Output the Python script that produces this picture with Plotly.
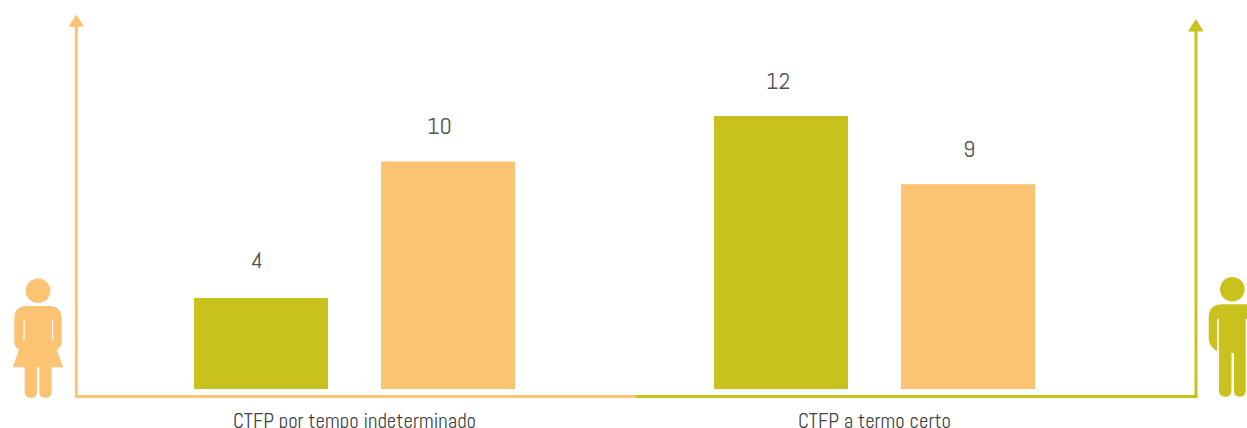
import plotly.graph_objects as go

categories = ["CTFP por tempo indeterminado", "CTFP a termo certo"]
men_values = [4, 12]
women_values = [10, 9]
OLIVE = "#C9C21E"
ORANGE = "#FCC372"
FONT = "Abel, Roboto, sans-serif"
W, H = 1247, 428
BASE = 389.0
UNIT = 22.75
CENTER0 = 354.5
STEP = 520.0


def px(x):
    return round(x / W, 5)


def py(y):
    return round((BASE - y) / BASE, 5)  # paper coordinates of the plot area


def path(*cmds):
    out = []
    for c in cmds:
        if isinstance(c, str):
            out.append(c)
        else:
            out.append(f"{px(c[0])},{py(c[1])}")
    return " ".join(out)


def circle(cx, cy, r):
    k = 0.5523 * r
    return path("M", (cx - r, cy),
                "C", (cx - r, cy - k), (cx - k, cy - r), (cx, cy - r),
                "C", (cx + k, cy - r), (cx + r, cy - k), (cx + r, cy),
                "C", (cx + r, cy + k), (cx + k, cy + r), (cx, cy + r),
                "C", (cx - k, cy + r), (cx - r, cy + k), (cx - r, cy), "Z")


def shape(d, color):
    return dict(type="path", xref="paper", yref="paper", path=d,
                fillcolor=color, line=dict(width=0), layer="above")


def line(x0, y0, x1, y1, color):
    return dict(type="line", xref="paper", yref="paper", x0=px(x0), x1=px(x1),
                y0=py(y0), y1=py(y1), line=dict(color=color, width=3), layer="above")


def tri(cx, tip, base, hw, color):
    return shape(path("M", (cx, tip), "L", (cx + hw, base), "L", (cx - hw, base), "Z"), color)


# woman pictogram
woman_body = path(
    "M", (27, 306), "L", (49, 306), "Q", (61.7, 306), (61.7, 319),
    "L", (61.7, 342), "Q", (61.7, 347), (56.7, 350),
    "L", (63.3, 367.3), "L", (51.7, 367.3), "L", (51.7, 391.7),
    "Q", (51.7, 397.7), (45.5, 397.7), "Q", (39.3, 397.7), (39.3, 391.7),
    "L", (39.3, 367.3), "L", (37, 367.3), "L", (37, 391.7),
    "Q", (37, 397.7), (30.8, 397.7), "Q", (24.7, 397.7), (24.7, 391.7),
    "L", (24.7, 367.3), "L", (12.7, 367.3), "L", (19, 350),
    "Q", (14.3, 347), (14.3, 342), "L", (14.3, 319), "Q", (14.3, 306), (27, 306), "Z",
)
woman_slit_l = path("M", (23.5, 320), "L", (24.7, 320), "L", (24.7, 339), "L", (23.5, 341), "Z")
woman_slit_r = path("M", (52, 320), "L", (53.2, 320), "L", (53.2, 341), "L", (52, 339), "Z")

# man pictogram (runs into the right edge of the picture)
man_body = path(
    "M", (1222, 304.3), "L", (1247, 304.3), "L", (1247, 319), "L", (1245.7, 319),
    "L", (1245.7, 390.7), "Q", (1245.7, 396.7), (1239.8, 396.7), "Q", (1234, 396.7), (1234, 390.7),
    "L", (1234, 353), "L", (1231.5, 353), "L", (1231.5, 390.7),
    "Q", (1231.5, 396.7), (1225.3, 396.7), "Q", (1219, 396.7), (1219, 390.7),
    "L", (1219, 351), "L", (1217.3, 351), "Q", (1208.7, 347), (1208.7, 338),
    "L", (1208.7, 318), "Q", (1208.7, 304.3), (1222, 304.3), "Z",
)
man_slit = path("M", (1217.3, 319), "L", (1218.8, 319), "L", (1218.8, 351), "L", (1217.3, 351), "Z")

shapes = [
    line(76.3, 397, 76.3, 26, ORANGE),
    line(1196, 397, 1196, 30, OLIVE),
    line(75, 396.5, 636, 396.5, ORANGE),
    line(636, 396.5, 1197.5, 396.5, OLIVE),
    tri(76.3, 14.5, 26.7, 7.8, ORANGE),
    tri(1195.8, 19, 31.5, 7.8, OLIVE),
    shape(circle(38, 290.7, 12.3), ORANGE),
    shape(woman_body, ORANGE),
    shape(woman_slit_l, "white"),
    shape(woman_slit_r, "white"),
    shape(circle(1232.3, 289.3, 12.3), OLIVE),
    shape(man_body, OLIVE),
    shape(man_slit, "white"),
]

fig = go.Figure()
fig.add_bar(x=categories, y=men_values, marker=dict(color=OLIVE, line=dict(width=0)), name="Homens")
fig.add_bar(x=categories, y=women_values, marker=dict(color=ORANGE, line=dict(width=0)), name="Mulheres")

# value labels, offset from bar centres as in the reference
annotations = []
for slot, vals, xs, ys in [(-93.5, men_values, (-4, -3), (39, 36)), (93.5, women_values, (-9, 1), (36, 36))]:
    for j, v in enumerate(vals):
        annotations.append(dict(x=j, y=v, xref="x", yref="y", text=str(v), showarrow=False,
                                xshift=slot + xs[j], yshift=ys[j],
                                font=dict(family=FONT, size=24, color="#555555")))

fig.update_layout(
    width=W, height=H, autosize=False,
    margin=dict(l=0, r=0, t=0, b=H - BASE, pad=0),
    paper_bgcolor="white", plot_bgcolor="white",
    barmode="group", bargap=1 - 374 / 520, bargroupgap=53 / 187,
    showlegend=False, shapes=shapes, annotations=annotations,
    xaxis=dict(type="category", range=[-CENTER0 / STEP, (W - CENTER0) / STEP], automargin=False,
               showgrid=False, zeroline=False, showline=False,
               ticks="outside", ticklen=13, tickcolor="rgba(0,0,0,0)",
               tickfont=dict(family=FONT, size=20.8, color="#444444")),
    yaxis=dict(range=[0, BASE / UNIT], visible=False, automargin=False),
)
fig.write_html("out.html", config=dict(displayModeBar=False),
               post_script="document.body.style.margin='0';")
